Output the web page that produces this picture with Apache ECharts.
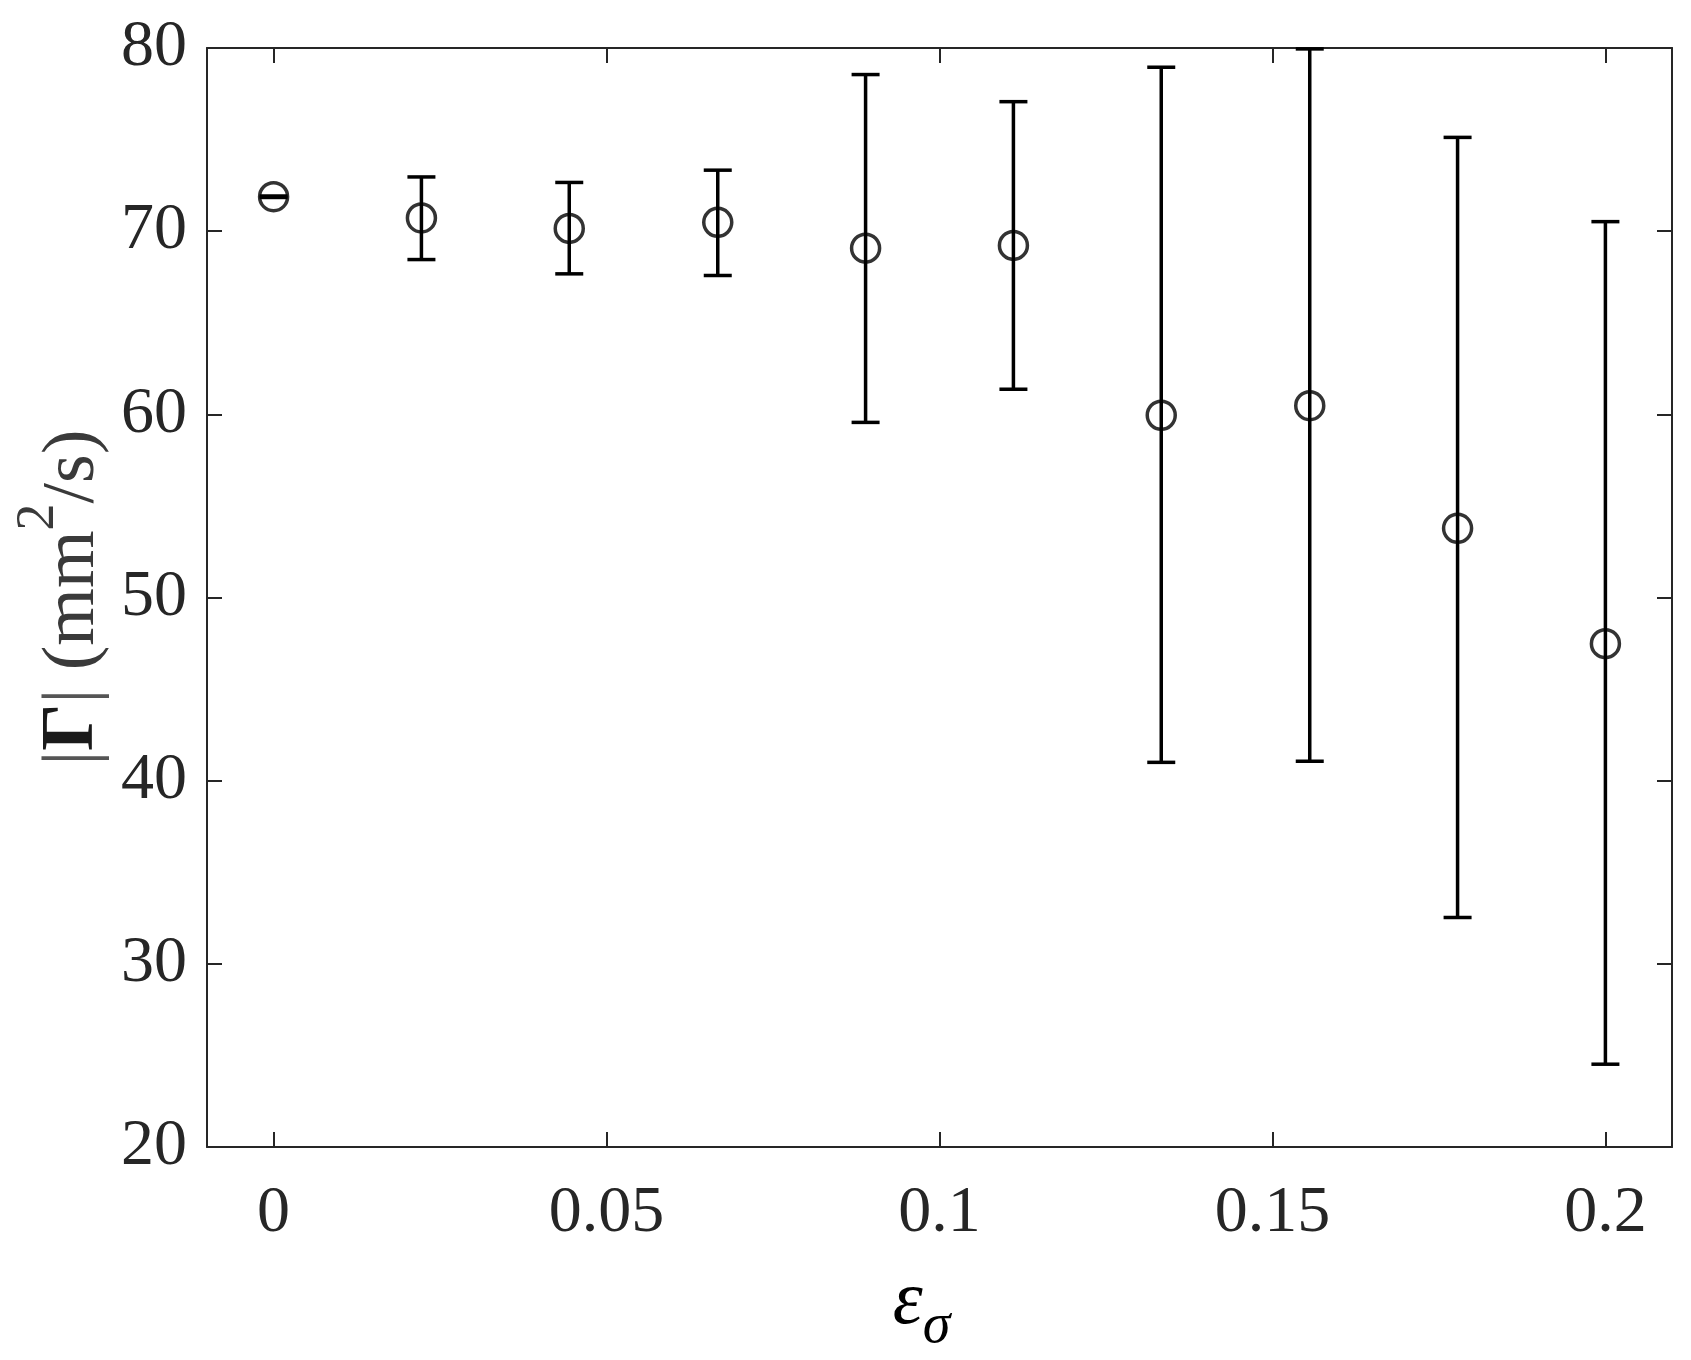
<!DOCTYPE html>
<html>
<head>
<meta charset="utf-8">
<script src="https://cdn.jsdelivr.net/npm/echarts@6/dist/echarts.min.js"></script>
<style>
html,body{margin:0;padding:0;background:#fff;}
#chart{width:1691px;height:1360px;}
</style>
</head>
<body>
<div id="chart"></div>
<script>
// ---- data ----
var xValues = [0, 0.0222, 0.0444, 0.0667, 0.0889, 0.1111, 0.1333, 0.1556, 0.1778, 0.2];
var meanValues = [71.88, 70.72, 70.15, 70.48, 69.07, 69.22, 59.95, 60.47, 53.78, 47.48];
var upperValues = [71.92, 72.96, 72.66, 73.33, 78.55, 77.07, 78.95, 79.95, 75.12, 70.52];
var lowerValues = [71.84, 68.45, 67.67, 67.58, 59.56, 61.37, 41.00, 41.06, 32.53, 24.52];
var xTickValues = [0, 0.05, 0.1, 0.15, 0.2];
var yTickValues = [20, 30, 40, 50, 60, 70, 80];

var FONT = '"Liberation Serif", "DejaVu Serif", serif';
var AXIS_COLOR = '#262626';

var errData = xValues.map(function (x, i) { return [x, lowerValues[i], upperValues[i]]; });
var pointData = xValues.map(function (x, i) { return [x, meanValues[i]]; });

var chart = echarts.init(document.getElementById('chart'), null, {renderer: 'canvas'});

function commonAxisLine() {
  return {show: true, onZero: false, lineStyle: {color: AXIS_COLOR, width: 2}};
}

var option = {
  backgroundColor: '#ffffff',
  animation: false,
  grid: {left: 207, right: 19, top: 48, bottom: 197, containLabel: false},
  xAxis: [{
    type: 'value', position: 'bottom', min: -0.01, max: 0.21,
    axisLine: commonAxisLine(),
    axisTick: {show: true, inside: true, length: 15, lineStyle: {color: AXIS_COLOR, width: 2}, customValues: xTickValues},
    axisLabel: {show: true, customValues: xTickValues, margin: 34, fontFamily: FONT, fontSize: 66, color: AXIS_COLOR,
      formatter: function (v) { return String(v); }},
    splitLine: {show: false},
    name: '{e|ε}{s|σ}', nameLocation: 'middle', nameGap: 118,
    nameTextStyle: {
      fontFamily: FONT, color: '#000', padding: [0, 36, 0, 0],
      rich: {
        e: {fontFamily: FONT, fontStyle: 'italic', fontSize: 76, color: '#000', verticalAlign: 'top', lineHeight: 90},
        s: {fontFamily: FONT, fontStyle: 'italic', fontSize: 56, color: '#000', verticalAlign: 'bottom', lineHeight: 90}
      }
    }
  }, {
    type: 'value', position: 'top', min: -0.01, max: 0.21,
    axisLine: commonAxisLine(),
    axisTick: {show: true, inside: true, length: 15, lineStyle: {color: AXIS_COLOR, width: 2}, customValues: xTickValues},
    axisLabel: {show: false},
    splitLine: {show: false}
  }],
  yAxis: [{
    type: 'value', position: 'left', min: 20, max: 80, interval: 10,
    axisLine: commonAxisLine(),
    axisTick: {show: true, inside: true, length: 15, lineStyle: {color: AXIS_COLOR, width: 2}},
    axisLabel: {show: true, margin: 20, fontFamily: FONT, fontSize: 66, color: AXIS_COLOR},
    splitLine: {show: false},
    name: '{bar||}{g|Γ}{bar||}{p| (mm}{sup|2}{p|/s)}', nameLocation: 'middle', nameGap: 86, nameRotate: 90,
    nameTextStyle: {
      fontFamily: FONT, color: '#3a3a3a',
      rich: {
        bar: {fontFamily: FONT, fontSize: 74, color: '#555', verticalAlign: 'bottom', lineHeight: 98},
        g: {fontFamily: FONT, fontSize: 74, fontWeight: 'bold', color: '#1a1a1a', verticalAlign: 'bottom', lineHeight: 98},
        p: {fontFamily: FONT, fontSize: 74, color: '#3a3a3a', verticalAlign: 'bottom', lineHeight: 98},
        sup: {fontFamily: FONT, fontSize: 54, color: '#3a3a3a', verticalAlign: 'top', lineHeight: 98}
      }
    }
  }, {
    type: 'value', position: 'right', min: 20, max: 80, interval: 10,
    axisLine: commonAxisLine(),
    axisTick: {show: true, inside: true, length: 15, lineStyle: {color: AXIS_COLOR, width: 2}},
    axisLabel: {show: false},
    splitLine: {show: false}
  }],
  series: [{
    type: 'custom',
    xAxisIndex: 0, yAxisIndex: 0,
    data: errData,
    encode: {x: 0, y: [1, 2]},
    z: 2,
    renderItem: function (params, api) {
      var x = api.value(0);
      var lo = api.coord([x, api.value(1)]);
      var hi = api.coord([x, api.value(2)]);
      var half = 14;
      var style = {stroke: '#000', lineWidth: 3.5, fill: null};
      return {
        type: 'group',
        children: [
          {type: 'line', shape: {x1: lo[0], y1: lo[1], x2: hi[0], y2: hi[1]}, style: style},
          {type: 'line', shape: {x1: hi[0] - half, y1: hi[1], x2: hi[0] + half, y2: hi[1]}, style: style},
          {type: 'line', shape: {x1: lo[0] - half, y1: lo[1], x2: lo[0] + half, y2: lo[1]}, style: style}
        ]
      };
    }
  }, {
    type: 'scatter',
    xAxisIndex: 0, yAxisIndex: 0,
    data: pointData,
    symbol: 'circle', symbolSize: 28,
    z: 3,
    itemStyle: {color: 'rgba(0,0,0,0)', borderColor: '#000', borderWidth: 3.5}
  }]
};
chart.setOption(option);
</script>
</body>
</html>
